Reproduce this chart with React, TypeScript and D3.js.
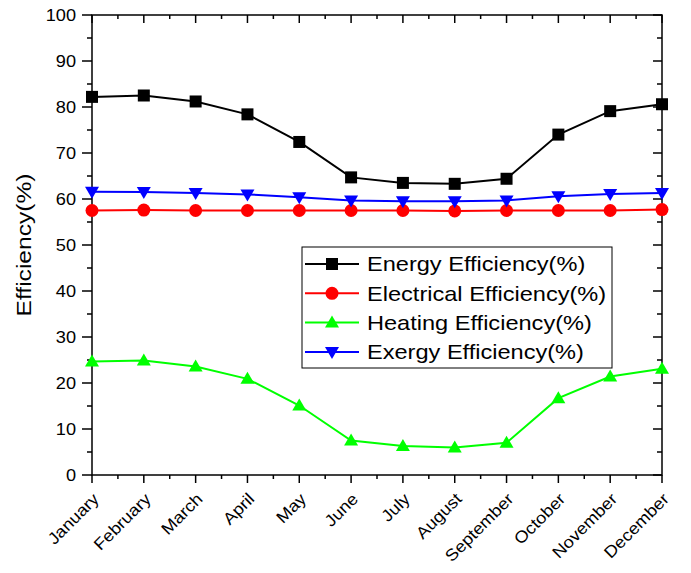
import * as d3 from 'd3';
import React, { useRef, useEffect } from 'react';

const months = ['January', 'February', 'March', 'April', 'May', 'June', 'July', 'August', 'September', 'October', 'November', 'December'];
const energy = [82.2, 82.5, 81.2, 78.4, 72.4, 64.7, 63.5, 63.3, 64.4, 74.0, 79.1, 80.6];
const electrical = [57.5, 57.6, 57.5, 57.5, 57.5, 57.5, 57.5, 57.4, 57.5, 57.5, 57.5, 57.7];
const heating = [24.7, 24.9, 23.6, 20.9, 15.1, 7.5, 6.3, 6.0, 7.0, 16.7, 21.4, 23.1];
const exergy = [61.6, 61.5, 61.3, 61.0, 60.4, 59.7, 59.5, 59.5, 59.7, 60.6, 61.1, 61.3];
const yTicks = [0, 10, 20, 30, 40, 50, 60, 70, 80, 90, 100];

const seriesList = [
    { name: 'Energy Efficiency(%)', values: energy, color: '#000000', symbol: 'square' },
    { name: 'Electrical Efficiency(%)', values: electrical, color: '#ff0000', symbol: 'circle' },
    { name: 'Heating Efficiency(%)', values: heating, color: '#00ff00', symbol: 'up' },
    { name: 'Exergy Efficiency(%)', values: exergy, color: '#0000ff', symbol: 'down' },
];

function drawMarker(g, symbol, x, y, color) {
    if (symbol === 'square') {
        g.append('rect').attr('x', x - 6).attr('y', y - 6).attr('width', 12).attr('height', 12).attr('fill', color);
    } else if (symbol === 'circle') {
        g.append('circle').attr('cx', x).attr('cy', y).attr('r', 6.5).attr('fill', color);
    } else if (symbol === 'up') {
        g.append('path').attr('d', `M${x},${y - 7}L${x + 7},${y + 5}L${x - 7},${y + 5}Z`).attr('fill', color);
    } else {
        g.append('path').attr('d', `M${x},${y + 7}L${x + 7},${y - 5}L${x - 7},${y - 5}Z`).attr('fill', color);
    }
}

function App() {
    const ref = useRef(null);

    useEffect(() => {
        const width = 691, height = 573;
        const left = 92, right = 662, top = 15, bottom = 475;
        const font = 'Liberation Sans, Arial, sans-serif';

        const svg = d3.select(ref.current);
        svg.selectAll('*').remove();
        svg.attr('width', width).attr('height', height);

        const x = d3.scalePoint().domain(months).range([left, right]);
        const y = d3.scaleLinear().domain([0, 100]).range([bottom, top]);

        // minor tick positions
        const xIdx = months.map((m, i) => i);
        const xMinor = xIdx.slice(0, -1).map(i => (x(months[i]) + x(months[i + 1])) / 2);
        const yMinor = yTicks.slice(0, -1).map(v => y(v + 5));

        const axes = svg.append('g').attr('stroke', '#000').attr('stroke-width', 1.5);

        // frame
        axes.append('rect')
            .attr('x', left).attr('y', top)
            .attr('width', right - left).attr('height', bottom - top)
            .attr('fill', 'none');

        // bottom (outward) and top (inward) ticks
        months.forEach(m => {
            axes.append('line').attr('x1', x(m)).attr('x2', x(m)).attr('y1', bottom).attr('y2', bottom + 8);
            axes.append('line').attr('x1', x(m)).attr('x2', x(m)).attr('y1', top).attr('y2', top + 8);
        });
        xMinor.forEach(px => {
            axes.append('line').attr('x1', px).attr('x2', px).attr('y1', bottom).attr('y2', bottom + 4);
            axes.append('line').attr('x1', px).attr('x2', px).attr('y1', top).attr('y2', top + 4);
        });

        // left (outward) and right (inward) ticks
        yTicks.forEach(v => {
            axes.append('line').attr('x1', left - 10).attr('x2', left).attr('y1', y(v)).attr('y2', y(v));
            axes.append('line').attr('x1', right - 9).attr('x2', right).attr('y1', y(v)).attr('y2', y(v));
        });
        yMinor.forEach(py => {
            axes.append('line').attr('x1', left - 5).attr('x2', left).attr('y1', py).attr('y2', py);
            axes.append('line').attr('x1', right - 5).attr('x2', right).attr('y1', py).attr('y2', py);
        });

        // y tick labels
        svg.append('g').selectAll('text').data(yTicks).enter().append('text')
            .attr('transform', d => `translate(${left - 16}, ${y(d)}) scale(1.07,1)`)
            .attr('dy', '0.36em')
            .attr('text-anchor', 'end')
            .style('font-family', font).style('font-size', '17px')
            .text(d => d);

        // x tick labels rotated
        svg.append('g').selectAll('text').data(months).enter().append('text')
            .attr('transform', d => `translate(${x(d) + 8}, ${bottom + 25}) rotate(-45) scale(1.1,1)`)
            .attr('text-anchor', 'end')
            .style('font-family', font).style('font-size', '16.5px')
            .text(d => d);

        // y axis title
        svg.append('text')
            .attr('transform', `translate(31, ${(top + bottom) / 2}) rotate(-90) scale(1.2,1)`)
            .attr('text-anchor', 'middle')
            .style('font-family', font).style('font-size', '20.5px')
            .text('Efficiency(%)');

        // series
        const line = d3.line().x((d, i) => x(months[i])).y(d => y(d));
        seriesList.forEach(s => {
            const g = svg.append('g');
            g.append('path').datum(s.values)
                .attr('d', line)
                .attr('fill', 'none')
                .attr('stroke', s.color)
                .attr('stroke-width', 2);
            s.values.forEach((v, i) => drawMarker(g, s.symbol, x(months[i]), y(v), s.color));
        });

        // legend
        const lg = svg.append('g').attr('transform', 'translate(302, 247)');
        lg.append('rect').attr('width', 310).attr('height', 121)
            .attr('fill', '#fff').attr('stroke', '#000').attr('stroke-width', 1);
        seriesList.forEach((s, i) => {
            const cy = 17 + i * 29.3;
            lg.append('line').attr('x1', 3).attr('x2', 57).attr('y1', cy).attr('y2', cy)
                .attr('stroke', s.color).attr('stroke-width', 2);
            drawMarker(lg, s.symbol, 30, cy, s.color);
            lg.append('text')
                .attr('transform', `translate(65, ${cy}) scale(1.15,1)`)
                .attr('dy', '0.36em')
                .style('font-family', font).style('font-size', '20.5px')
                .text(s.name);
        });
    }, []);

    return (
        <svg ref={ref} style={{ position: 'absolute', left: 0, top: 0 }}></svg>
    );
}

export default App;
